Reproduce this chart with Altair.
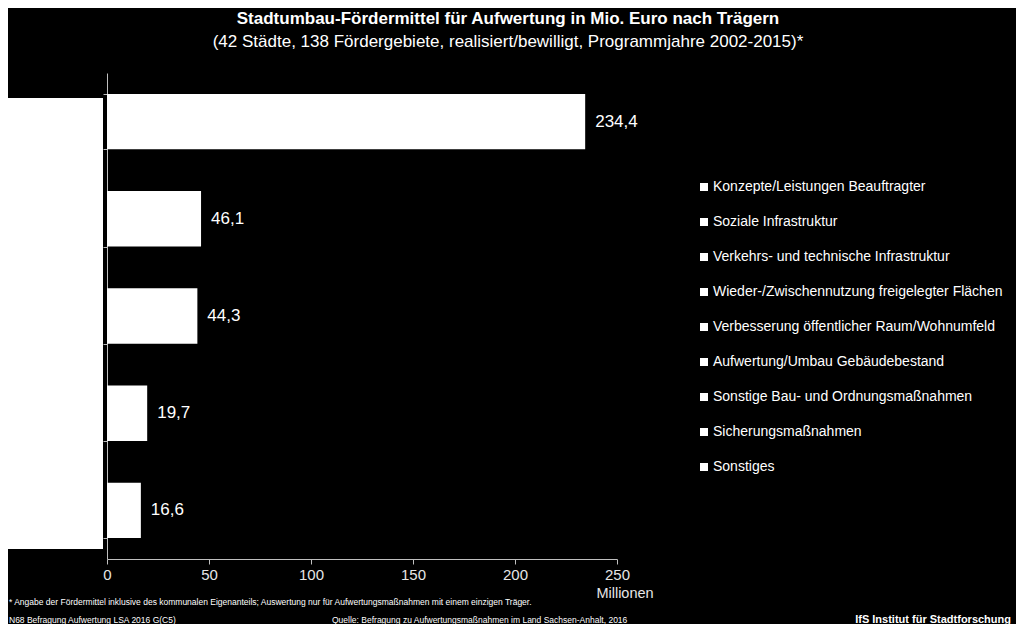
import altair as alt
import pandas as pd

traeger = ["Kommune", "Wohnungsunternehmen", "Wohnungsgenossenschaften", "Private Eigentümer", "Sonstige Träger"]
werte = [234.4, 46.1, 44.3, 19.7, 16.6]

legend_items = [
    "Konzepte/Leistungen Beauftragter",
    "Soziale Infrastruktur",
    "Verkehrs- und technische Infrastruktur",
    "Wieder-/Zwischennutzung freigelegter Flächen",
    "Verbesserung öffentlicher Raum/Wohnumfeld",
    "Aufwertung/Umbau Gebäudebestand",
    "Sonstige Bau- und Ordnungsmaßnahmen",
    "Sicherungsmaßnahmen",
    "Sonstiges",
]

x_ticks = [0, 50, 100, 150, 200, 250]

title_text = "Stadtumbau-Fördermittel  für Aufwertung  in Mio. Euro nach Trägern"
subtitle_text = "(42 Städte, 138 Fördergebiete, realisiert/bewilligt, Programmjahre 2002-2015)*"
footnote_text = "* Angabe der Fördermittel inklusive des kommunalen Eigenanteils; Auswertung nur für Aufwertungsmaßnahmen mit einem einzigen Träger."
code_text = "N68 Befragung Aufwertung LSA 2016 G(C5)"
source_text = "Quelle: Befragung zu Aufwertungsmaßnahmen im Land Sachsen-Anhalt, 2016"
brand_text = "IfS Institut für Stadtforschung"

FONT = "Liberation Sans, Arial, sans-serif"

df = pd.DataFrame({"Träger": traeger, "Wert": werte})
df["Label"] = [f"{v:.1f}".replace(".", ",") for v in werte]

leg_df = pd.DataFrame({"Maßnahme": legend_items})

W, H = 510, 486

base = alt.Chart(df)

bars = base.mark_bar(color="white").encode(
    x=alt.X(
        "Wert:Q",
        scale=alt.Scale(domain=[0, 250], nice=False),
        axis=alt.Axis(
            values=x_ticks, title=None, grid=False, domainColor="#bfbfbf",
            tickColor="#bfbfbf", tickSize=5, labelColor="#e6e6e6",
            labelFontSize=15, labelFont=FONT, labelPadding=3, labelFlush=False,
        ),
    ),
    y=alt.Y(
        "Träger:N", sort=None,
        scale=alt.Scale(paddingInner=0.43, paddingOuter=0.215),
        axis=alt.Axis(
            labels=False, title=None, grid=False, domainColor="#bfbfbf",
            tickColor="#bfbfbf", tickSize=4, tickBand="extent",
        ),
    ),
)

labels = base.mark_text(
    align="left", baseline="middle", dx=10, color="white", fontSize=17, font=FONT
).encode(x="Wert:Q", y=alt.Y("Träger:N", sort=None), text="Label:N")

legend_layer = (
    alt.Chart(leg_df)
    .mark_square(opacity=1, filled=True)
    .encode(
        color=alt.Color(
            "Maßnahme:N",
            scale=alt.Scale(domain=legend_items, range=["#ffffff"] * len(legend_items)),
            legend=alt.Legend(
                title=None, orient="none", legendX=590, legendY=107,
                symbolType="square", symbolSize=64, symbolStrokeWidth=0,
                symbolFillColor="#ffffff", symbolOpacity=1,
                labelColor="white", labelFontSize=14, labelFont=FONT,
                labelOffset=2, rowPadding=21, padding=0, labelLimit=400,
            ),
        )
    )
    .transform_filter("false")
)

one = pd.DataFrame({"a": [0]})
box = alt.Chart(one).mark_rect(color="white").encode(
    x=alt.value(-104), x2=alt.value(-4), y=alt.value(25), y2=alt.value(476)
)


def txt(text, x, y, size, align="left", weight="normal", font=FONT, color="white"):
    return alt.Chart(one).mark_text(
        text=text, align=align, baseline="middle", fontSize=size,
        fontWeight=weight, font=font, color=color,
    ).encode(x=alt.value(x), y=alt.value(y))


texts = [
    txt(title_text, 401, -54, 17, align="center", weight="bold"),
    txt(subtitle_text, 401, -31, 17, align="center"),
    txt("Millionen", 518, 521, 14.5, align="center", color="#e6e6e6"),
    txt(footnote_text, -98, 529, 8.5),
    txt(code_text, -98, 547, 8.5),
    txt(source_text, 225, 547, 8.5),
    txt(brand_text, 904, 547, 11, align="right", weight="bold"),
]

chart = (
    alt.layer(bars, labels, legend_layer, box, *texts)
    .properties(
        width=W, height=H,
        autosize=alt.AutoSizeParams(type="none"),
        padding={"left": 99, "top": 65, "right": 1008 - 99 - W, "bottom": 616 - 65 - H},
        background="black",
    )
    .configure_view(stroke=None)
)

chart.save("out.html", embed_options={"renderer": "svg", "actions": False})
